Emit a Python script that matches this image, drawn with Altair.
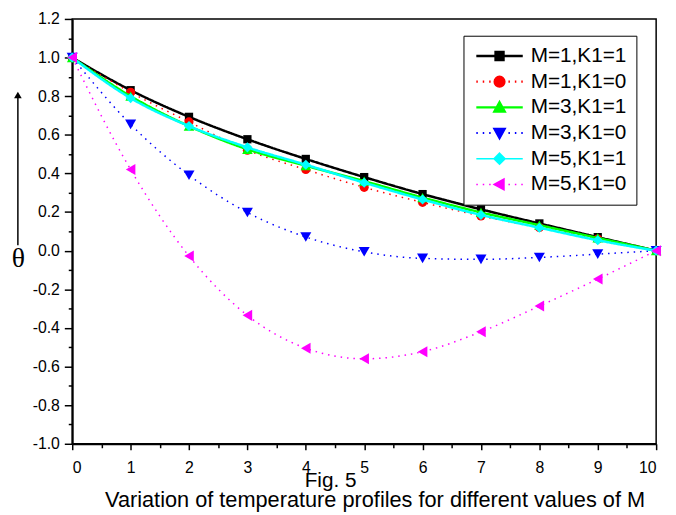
import altair as alt
import pandas as pd

x_vals = [0, 1, 2, 3, 4, 5, 6, 7, 8, 9, 10]
series_names = ["M=1,K1=1", "M=1,K1=0", "M=3,K1=1", "M=3,K1=0", "M=5,K1=1", "M=5,K1=0"]
m1_k1 = [1.0, 0.831, 0.693, 0.577, 0.475, 0.381, 0.293, 0.214, 0.141, 0.070, 0.0]
m1_k0 = [1.0, 0.820, 0.667, 0.520, 0.420, 0.328, 0.250, 0.180, 0.120, 0.060, 0.0]
m3_k1 = [1.0, 0.800, 0.645, 0.525, 0.440, 0.360, 0.275, 0.198, 0.132, 0.066, 0.0]
m3_k0 = [1.0, 0.654, 0.391, 0.198, 0.071, -0.006, -0.040, -0.045, -0.035, -0.018, 0.0]
m5_k1 = [1.0, 0.790, 0.645, 0.535, 0.445, 0.352, 0.265, 0.185, 0.119, 0.054, 0.0]
m5_k0 = [1.0, 0.420, -0.028, -0.335, -0.505, -0.560, -0.523, -0.420, -0.287, -0.147, 0.0]
all_series = [m1_k1, m1_k0, m3_k1, m3_k0, m5_k1, m5_k0]

y_major = [-1.0, -0.8, -0.6, -0.4, -0.2, 0.0, 0.2, 0.4, 0.6, 0.8, 1.0, 1.2]
y_minor = [-0.9, -0.7, -0.5, -0.3, -0.1, 0.1, 0.3, 0.5, 0.7, 0.9, 1.1]
x_major = [0, 1, 2, 3, 4, 5, 6, 7, 8, 9, 10]
x_minor = [0.5, 1.5, 2.5, 3.5, 4.5, 5.5, 6.5, 7.5, 8.5, 9.5]

colors = ["#000000", "#ff0000", "#00ff00", "#0000ff", "#00ffff", "#ff00ff"]
shapes = ["square", "circle", "triangle-up", "triangle-down", "diamond", "triangle-left"]
dashes = [[1, 0], [1.5, 5], [1, 0], [1.5, 5], [1, 0], [1.5, 5]]
widths = [2.5, 1.5, 2.5, 1.5, 2.5, 1.5]
sizes = [70, 85, 115, 125, 105, 125]

# legend symbols: a line (solid or dotted) with the marker in its middle (unit = 5 px)
solid_seg = "M-4.7,0H4.7"
dotted_seg = "".join(f"M{-4.7 + 1.3 * k:.2f},0h0.3" for k in range(8))
markers = [
    "M-0.8,-0.8H0.8V0.8H-0.8Z",
    "M-1,0A1,1,0,1,1,1,0A1,1,0,1,1,-1,0Z",
    "M0,-1.1L1.1,0.9L-1.1,0.9Z",
    "M0,1.1L1.1,-0.9L-1.1,-0.9Z",
    "M0,-1.1L1.1,0L0,1.1L-1.1,0Z",
    "M-1.1,0L0.9,-1.1L0.9,1.1Z",
]
legend_paths = [(solid_seg if d == [1, 0] else dotted_seg) + m for d, m in zip(dashes, markers)]

rows = []
for name, vals in zip(series_names, all_series):
    for xv, yv in zip(x_vals, vals):
        rows.append({"x": xv, "theta": yv, "series": name})
df = pd.DataFrame(rows)

xscale = alt.Scale(domain=[0, 10], nice=False, zero=False)
yscale = alt.Scale(domain=[-1.0, 1.2], nice=False, zero=False)
label_expr = "(datum.value < 0 ? '-' : '') + format(abs(datum.value), '.1f')"

x_axis_major = alt.Axis(
    orient="bottom", values=x_major, format="d", tickSize=6, labelPadding=10,
    title="Fig. 5", titleX=261, titleY=43, titleBaseline="alphabetic",
    titleFont="Liberation Sans", titleFontSize=21, titleFontWeight="normal",
    titleColor="black")
y_axis_major = alt.Axis(
    orient="left", values=y_major, labelExpr=label_expr, tickSize=8, labelPadding=5,
    title="θ", titleAngle=0, titleX=-55, titleY=251, titleBaseline="alphabetic",
    titleAlign="center", titleFont="Liberation Serif", titleFontSize=28,
    titleFontWeight="normal", titleColor="black")
x_axis_minor = alt.Axis(orient="bottom", values=x_minor, labels=False, domain=False, tickSize=4, title=None)
y_axis_minor = alt.Axis(orient="left", values=y_minor, labels=False, domain=False, tickSize=4, title=None)

layers = []
for i, (name, c, s, sz, d, w) in enumerate(zip(series_names, colors, shapes, sizes, dashes, widths)):
    sub = alt.Chart(df).transform_filter(alt.datum.series == name)
    if i == 0:
        xa, ya, xb, yb = x_axis_major, y_axis_major, x_axis_minor, y_axis_minor
    else:
        xa = ya = xb = yb = None
    line = sub.mark_line(interpolate="monotone", color=c, strokeDash=d, strokeWidth=w).encode(
        x=alt.X("x:Q", scale=xscale, axis=xa), y=alt.Y("theta:Q", scale=yscale, axis=ya))
    pts = sub.mark_point(shape=s, filled=True, color=c, size=sz, opacity=1).encode(
        x=alt.X("x:Q", scale=xscale, axis=xb), y=alt.Y("theta:Q", scale=yscale, axis=yb))
    layers.append(line)
    layers.append(pts)

legend_main = alt.Legend(
    title=None,
    orient="none",
    legendX=396,
    legendY=17,
    strokeColor="black",
    fillColor="white",
    padding=10,
    labelFont="Liberation Sans",
    labelFontSize=21,
    labelColor="black",
    symbolSize=100,
    symbolOffset=16,
    labelOffset=21,
    rowPadding=4,
    symbolOpacity=1,
)
legend_other = alt.Legend(title=None, orient="none", legendX=396, legendY=17, symbolOpacity=1)

color_scale = alt.Scale(domain=series_names, range=colors)
legend_layer = alt.Chart(df).mark_point(filled=True, opacity=0).encode(
    x=alt.X("x:Q", scale=xscale, axis=None),
    y=alt.Y("theta:Q", scale=yscale, axis=None),
    fill=alt.Fill("series:N", scale=color_scale, legend=legend_main),
    stroke=alt.Stroke("series:N", scale=color_scale, legend=legend_other),
    shape=alt.Shape("series:N", scale=alt.Scale(domain=series_names, range=legend_paths), legend=legend_other),
    strokeWidth=alt.StrokeWidth("series:N", scale=alt.Scale(domain=series_names, range=widths), legend=legend_other),
)

anchor = pd.DataFrame({"a": [0]})
arrow_line = alt.Chart(anchor).mark_rule(color="black", strokeWidth=1.5).encode(
    x=alt.value(-55), y=alt.value(76), y2=alt.value(229))
arrow_head = alt.Chart(anchor).mark_point(shape="triangle-up", filled=True, color="black", opacity=1, size=60).encode(
    x=alt.value(-55), y=alt.value(77))

chart = alt.layer(*layers, legend_layer, arrow_line, arrow_head).resolve_axis(
    x="independent", y="independent"
).properties(
    width=591,
    height=430,
    background="white",
    autosize=alt.AutoSizeParams(type="none"),
    padding={"left": 65, "top": 8, "right": 12, "bottom": 69},
    title=alt.TitleParams(
        text="Variation of temperature profiles for different values of M",
        orient="bottom", anchor="middle", font="Liberation Sans", fontSize=22,
        fontWeight="normal", color="black", dx=11, offset=0),
).configure_view(
    stroke="black", strokeWidth=1.5
).configure_axis(
    grid=False, domainColor="black", domainWidth=2, tickColor="black", tickWidth=1.5,
    labelColor="black", labelFont="Liberation Sans", labelFontSize=16,
)

chart.save("out.html", embed_options={"renderer": "svg", "actions": False})
